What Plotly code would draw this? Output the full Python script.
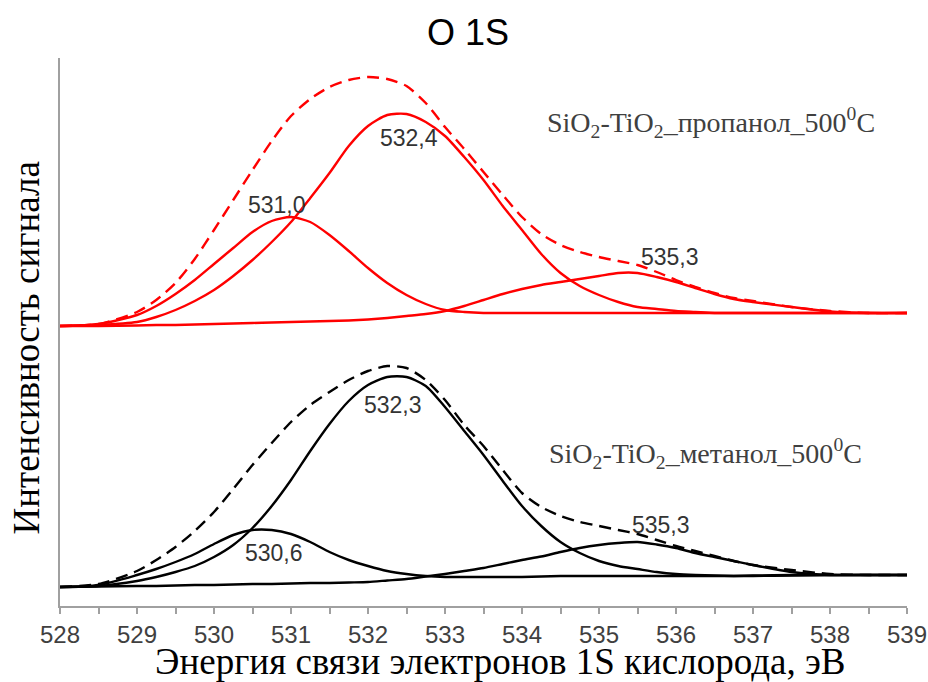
import plotly.graph_objects as go

# Binding energy, eV
energy = [528.0, 528.5, 529.0, 529.25, 529.5, 529.75, 530.0, 530.25, 530.5, 530.75,
          531.0, 531.25, 531.5, 531.75, 532.0, 532.25, 532.5, 532.75, 533.0, 533.25,
          533.5, 533.75, 534.0, 534.25, 534.5, 534.75, 535.0, 535.25, 535.5, 535.75,
          536.0, 536.25, 536.5, 536.75, 537.0, 537.5, 538.0, 538.5, 539.0]

# SiO2-TiO2 propanol 500C (stacked, a.u.)
prop_envelope = [280, 282, 294, 306, 323, 347, 376, 406, 436, 465,
                 490, 507, 519, 526, 529, 527, 520, 503, 479, 457,
                 434, 411, 389, 372, 361, 354, 349, 345, 341, 334,
                 326, 319, 313, 308, 305, 299, 295, 293, 293]
prop_531_0 = [280, 282, 291, 300, 312, 326, 342, 358, 374, 385,
              389, 384, 371, 355, 338, 323, 311, 302, 296, 294,
              293, 293, 293, 293, 293, 293, 293, 293, 293, 293,
              293, 293, 293, 293, 293, 293, 293, 293, 293]
prop_532_4 = [280, 281, 284, 289, 296, 305, 316, 330, 346, 364,
              384, 408, 433, 460, 480, 491, 492, 484, 470, 449,
              426, 400, 376, 352, 333, 320, 311, 304, 299, 297,
              295, 294, 293, 293, 293, 293, 293, 293, 293]
prop_535_3 = [280, 280, 280.5, 281, 281, 281.5, 282, 282.5, 283, 283.5,
              284, 284.5, 285, 285.5, 286.5, 288, 290, 292, 295, 300,
              306, 312, 317, 321, 324, 327, 330, 333, 333, 329,
              324, 318, 312, 307, 304, 299, 294.5, 293, 293]

# SiO2-TiO2 methanol 500C (a.u.)
meth_envelope = [19, 22, 35, 46, 59, 75, 94, 117, 141, 163,
                 184, 201, 214, 226, 235, 240, 238, 226, 206, 181,
                 160, 136, 113, 99, 90, 84, 80, 76, 72, 66,
                 60, 55, 50, 45, 41, 36, 32, 31, 31]
meth_530_6 = [19, 21, 31, 37, 44, 52, 62, 71, 76, 76,
              72, 64, 54, 46, 40, 35, 32, 30, 29, 29,
              29, 29, 29, 29.5, 30, 30, 30, 30, 30, 30,
              30, 30, 30, 30, 30.5, 31, 31, 31, 31]
meth_532_3 = [19, 20, 25, 29, 34, 40, 49, 61, 78, 100,
              126, 155, 182, 205, 221, 229, 229, 220, 199, 175,
              151, 125, 100, 80, 64, 53, 45, 40, 37, 34,
              32, 31, 30.5, 30, 30, 30.5, 31, 31, 31]
meth_535_3 = [19, 19.5, 20, 20, 20.5, 21, 21, 21.5, 22, 22,
              22.5, 23, 23, 23.5, 24, 25.5, 27, 29.5, 32, 35,
              38, 42, 46, 49.5, 54, 58, 61, 63, 64, 61.5,
              58, 53, 49, 45, 41, 34, 31, 31, 31]

x_ticks = [528, 529, 530, 531, 532, 533, 534, 535, 536, 537, 538, 539]

RED = "#ff0000"
BLACK = "#000000"
LW = 2.4

fig = go.Figure()


def add(y, color, dash=None):
    fig.add_trace(go.Scatter(
        x=energy, y=y, mode="lines",
        line=dict(color=color, width=LW, shape="spline", smoothing=0.7,
                  dash=dash if dash else "solid"),
        hoverinfo="skip", showlegend=False))


add(prop_535_3, RED)
add(prop_531_0, RED)
add(prop_532_4, RED)
add(prop_envelope, RED, "12px,7px")
add(meth_535_3, BLACK)
add(meth_530_6, BLACK)
add(meth_532_3, BLACK)
add(meth_envelope, BLACK, "12px,7px")

label_font = dict(family="Liberation Sans, Arial, sans-serif", size=23, color="#333333")
sample_font = dict(family="Liberation Serif, Times New Roman, serif", size=28, color="#404040")

peak_labels = [
    (532.53, 468, "532,4"),
    (530.82, 401, "531,0"),
    (535.92, 349, "535,3"),
    (532.32, 201, "532,3"),
    (530.78, 53, "530,6"),
    (535.81, 81, "535,3"),
]
for x, y, t in peak_labels:
    fig.add_annotation(x=x, y=y, text=t, showarrow=False, font=label_font,
                       xanchor="center", yanchor="middle")

fig.add_annotation(x=536.45, y=484,
                   text="SiO<sub>2</sub>-TiO<sub>2</sub>_пропанол_500<sup>0</sup>C",
                   showarrow=False, font=sample_font, xanchor="center", yanchor="middle")
fig.add_annotation(x=536.38, y=153,
                   text="SiO<sub>2</sub>-TiO<sub>2</sub>_метанол_500<sup>0</sup>C",
                   showarrow=False, font=sample_font, xanchor="center", yanchor="middle")

# Titles
fig.add_annotation(xref="paper", yref="paper", x=0.482, y=1.046, text="O 1S",
                   showarrow=False, xanchor="center", yanchor="middle",
                   font=dict(family="Liberation Sans, Arial, sans-serif", size=36, color="#000000"))
fig.add_annotation(xref="paper", yref="paper", x=0.519, y=-0.1004,
                   text="Энергия связи электронов 1S кислорода, эВ",
                   showarrow=False, xanchor="center", yanchor="middle",
                   font=dict(family="Liberation Serif, Times New Roman, serif", size=37, color="#000000"))
fig.add_annotation(xref="paper", yref="paper", x=-0.04, y=0.47,
                   text="Интенсивность сигнала", textangle=-90,
                   showarrow=False, xanchor="center", yanchor="middle",
                   font=dict(family="Liberation Serif, Times New Roman, serif", size=37, color="#000000"))

fig.update_layout(
    width=928, height=682,
    margin=dict(l=60, r=21, t=58, b=76, autoexpand=False),
    plot_bgcolor="white", paper_bgcolor="white",
    xaxis=dict(range=[528, 539], tickvals=x_ticks, ticktext=[str(v) for v in x_ticks],
               automargin=False,
               ticks="outside", ticklen=6, tickwidth=1.5, tickcolor="#a0a0a0",
               showline=True, linecolor="#a0a0a0", linewidth=1.5,
               showgrid=False, zeroline=False,
               tickfont=dict(family="Liberation Sans, Arial, sans-serif", size=24, color="#404040"),
               minor=dict(dtick=0.5, tick0=528, ticks="outside", ticklen=6, tickwidth=1.5,
                          tickcolor="#a0a0a0", showgrid=False)),
    yaxis=dict(range=[0, 548], showticklabels=False, ticks="", showgrid=False,
               automargin=False,
               zeroline=False, showline=True, linecolor="#a0a0a0", linewidth=1.5),
)

fig.write_html("out.html", config={"displayModeBar": False},
               post_script="document.body.style.margin='0';document.body.style.overflow='hidden';")
